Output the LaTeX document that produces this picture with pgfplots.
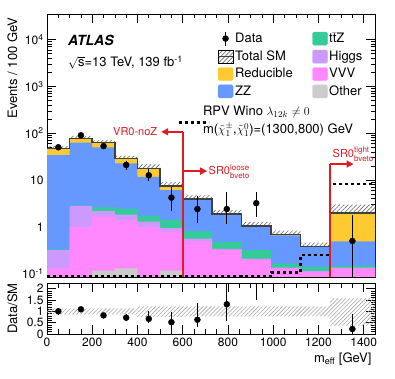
\documentclass[border=0pt]{standalone}
\usepackage{pgfplots}
\pgfplotsset{compat=1.18}
\usepackage{pgfplotstable}
\usepgfplotslibrary{fillbetween}
\usetikzlibrary{patterns.meta,arrows.meta}
\usepackage{fontspec}
\setmainfont{TeX Gyre Heros}

\definecolor{cRed}{RGB}{254,202,50}
\definecolor{cZZ}{RGB}{102,153,255}
\definecolor{cttZ}{RGB}{51,204,153}
\definecolor{cHig}{RGB}{204,153,255}
\definecolor{cVVV}{RGB}{255,136,255}
\definecolor{cOth}{RGB}{204,204,204}
\definecolor{cArrow}{RGB}{220,30,35}

% cumulative stack tops per bin (left edge), last row closes the last bin
\pgfplotstableread{
x     oth    vvv   hig    ttz    zz    tot   lo    hi    sig
0     0.02   0.13  0.32   0.33   34    47    40.9  53.1  0.0875
100   0.03   1.0   2.8    2.85   63    77    67.0  87.0  0.0875
200   0.116  1.66  2.2    2.6    50    63    54.8  71.2  0.0875
300   0.13   1.41  1.83   2.45   22.6  29    25.2  32.8  0.0875
400   0.02   1.0   1.3    1.74   11.7  17.7  13.5  21.6  0.0875
500   0.116  0.79  0.94   1.41   6.1   7.4   5.6   9.0   0.0875
600   0.02   0.5   0.56   0.8    3.8   3.9   3.04  4.76  0.0875
730   0.02   0.32  0.34   0.48   1.84  1.86  1.45  2.27  0.0875
860   0.02   0.2   0.21   0.32   1.03  1.05  0.82  1.28  0.0875
990   0.02   0.13  0.135  0.165  0.66  0.68  0.53  0.83  0.107
1120  0.02   0.11  0.115  0.14   0.37  0.38  0.30  0.46  0.25
1250  0.02   0.13  0.135  0.148  0.49  1.95  0.72  3.0   8.2
1450  0.02   0.13  0.135  0.148  0.49  1.95  0.72  3.0   8.2
}\stack

\pgfplotstableread{
x     y     ep    em
50    50    7     7
150   90    9.5   9.5
250   53    7.3   7.3
350   21    5     5
450   12.6  4.3   3.0
550   4.2   3.0   2.0
665   2.4   2.2   1.2
795   2.4   3.2   1.26
925   3.2   2.4   1.54
1350  0.5   1.3   0.45
}\data

\pgfplotstableread{
x     r     ep    em
50    1.0   0.14  0.14
150   1.09  0.12  0.12
250   0.82  0.11  0.11
350   0.72  0.16  0.16
450   0.67  0.33  0.19
550   0.52  0.47  0.35
665   0.63  0.72  0.33
795   1.31  1.2   0.74
925   3.0   2.0   1.48
1350  0.22  0.68  0.22
}\ratio

\pgfplotstableread{
x     lo    hi
0     0.87  1.13
400   0.76  1.22
600   0.78  1.22
1250  0.37  1.57
1450  0.37  1.57
}\band

\pgfplotsset{
  atlas/.style={
    scale only axis, width=328bp,
    xmin=0, xmax=1450,
    xtick={0,200,...,1400}, minor x tick num=3,
    tick align=inside,
    major tick length=9bp, minor tick length=4.5bp,
    axis line style={line width=0.8bp},
    every tick/.style={black, line width=0.6bp},
    tick label style={font=\fontsize{12bp}{14bp}\selectfont},
    label style={font=\fontsize{13bp}{15bp}\selectfont},
    /pgf/number format/assume math mode=true,
    /pgf/number format/1000 sep={},
  },
  box/.style={legend image code/.code={\fill[#1, rounded corners=1.5bp] (0bp,-6.5bp) rectangle (15bp,6.5bp);}},
}

\begin{document}
\begin{tikzpicture}

% ---------------- ratio panel
\begin{axis}[atlas, at={(0,0)}, anchor=south west, height=51bp,
  ymin=0, ymax=2.25, ytick={0,0.5,1,1.5,2}, minor y tick num=4,
  yticklabels={0,0.5,1,1.5,2},
  xlabel={m\textsubscript{eff} [GeV]},
  ylabel={Data/SM},
  xlabel style={at={(rel axis cs:1,0)}, anchor=north east, yshift=-15bp},
  ylabel style={at={([xshift=-26bp]rel axis cs:0,0.5)}, anchor=south},
]
\addplot[name path=bup, draw=none, const plot mark left, forget plot] table[x=x, y=hi] {\band};
\addplot[name path=bdn, draw=none, const plot mark left, forget plot] table[x=x, y=lo] {\band};
\addplot[pattern={Lines[angle=45, distance=2.8bp, line width=0.6bp]}, pattern color=black!35, draw=none, forget plot]
  fill between[of=bup and bdn];
\addplot[only marks, mark=*, mark size=3bp, black,
  error bars/.cd, y dir=both, y explicit, error mark=none,
  error bar style={line width=1.3bp}]
  table[x=x, y=r, y error plus=ep, y error minus=em] {\ratio};
\end{axis}

% ---------------- main panel
\begin{axis}[atlas, at={(0,57bp)}, anchor=south west, height=263bp,
  ymode=log, log origin y=infty,
  ymin=0.085, ymax=3.5e4,
  ytick={0.1,1,10,100,1000,10000},
  yticklabels={10\textsuperscript{-1},1,10,10\textsuperscript{2},10\textsuperscript{3},10\textsuperscript{4}},
  xticklabel=\empty,
  ylabel={Events / 100 GeV},
  ylabel style={at={([xshift=-26bp]rel axis cs:0,1)}, anchor=south east},
  legend columns=2, legend cell align=left,
  legend style={at={(0.51,0.944)}, anchor=north west, draw=none, fill=none,
    font=\fontsize{13bp}{15bp}\selectfont, row sep=3.3bp,
    /tikz/every even column/.append style={column sep=18bp},
    nodes={inner sep=1.5bp}},
]
\addplot[ybar interval, fill=cRed, draw=none, forget plot] table[x=x, y=tot] {\stack};
\addplot[ybar interval, fill=cZZ,  draw=none, forget plot] table[x=x, y=zz]  {\stack};
\addplot[ybar interval, fill=cttZ, draw=none, forget plot] table[x=x, y=ttz] {\stack};
\addplot[ybar interval, fill=cHig, draw=none, forget plot] table[x=x, y=hig] {\stack};
\addplot[ybar interval, fill=cVVV, draw=none, forget plot] table[x=x, y=vvv] {\stack};
\addplot[ybar interval, fill=cOth, draw=none, forget plot] table[x=x, y=oth] {\stack};

\addplot[name path=up, draw=none, const plot mark left, forget plot] table[x=x, y=hi] {\stack};
\addplot[name path=dn, draw=none, const plot mark left, forget plot] table[x=x, y=lo] {\stack};
\addplot[pattern={Lines[angle=45, distance=3bp, line width=0.6bp]}, pattern color=black!60, draw=none, forget plot]
  fill between[of=up and dn];

\addplot[black!75, line width=1.6bp, const plot mark left, forget plot] table[x=x, y=tot] {\stack};
\addplot[black, line width=2.4bp, dash pattern=on 3bp off 3bp, const plot mark left, forget plot]
  table[x=x, y=sig] {\stack};

\addplot[only marks, mark=*, mark size=3bp, black, forget plot,
  error bars/.cd, y dir=both, y explicit, error mark=none,
  error bar style={line width=1.3bp}]
  table[x=x, y=y, y error plus=ep, y error minus=em] {\data};

% region arrows
\draw[cArrow, line width=1.6bp] (axis cs:600,0.085) -- (axis cs:600,107);
\draw[cArrow, line width=1.6bp, -{Triangle[length=7bp,width=7bp]}] (axis cs:600,107) -- (axis cs:505,107);
\draw[cArrow, line width=1.6bp, -{Triangle[length=7bp,width=7bp]}] (axis cs:600,15.5) -- (axis cs:708,15.5);
\draw[cArrow, line width=1.6bp] (axis cs:1250,0.085) -- (axis cs:1250,21.9);
\draw[cArrow, line width=1.6bp, -{Triangle[length=7bp,width=7bp]}] (axis cs:1250,21.9) -- (axis cs:1355,21.9);
\node[cArrow, anchor=base east, inner sep=0pt, font=\fontsize{11bp}{13bp}\selectfont] at (axis cs:488,88) {VR0-noZ};
\node[cArrow, anchor=base west, inner sep=0pt, font=\fontsize{11bp}{13bp}\selectfont] at (axis cs:714,13.1)
  {SR0$^{\mbox{\fontsize{8bp}{9bp}\selectfont loose}}_{\mbox{\fontsize{8bp}{9bp}\selectfont bveto}}$};
\node[cArrow, anchor=base west, inner sep=0pt, font=\fontsize{11bp}{13bp}\selectfont] at (axis cs:1262,30)
  {SR0$^{\mbox{\fontsize{8bp}{9bp}\selectfont tight}}_{\mbox{\fontsize{8bp}{9bp}\selectfont bveto}}$};

\node[anchor=west, inner sep=0pt, font=\fontsize{14bp}{16bp}\selectfont\bfseries\itshape] at (rel axis cs:0.064,0.901) {ATLAS};
\node[anchor=west, inner sep=0pt, font=\fontsize{13bp}{15bp}\selectfont] at (rel axis cs:0.064,0.817)
  {$\sqrt{\mbox{s}}$=13 TeV, 139 fb\textsuperscript{-1}};

% legend
\addlegendimage{legend image code/.code={
  \draw[line width=1.3bp] (7.5bp,-7bp) -- (7.5bp,7bp);
  \fill (7.5bp,0bp) circle (3bp);}}
\addlegendentry{Data}
\addlegendimage{box=cttZ}
\addlegendentry{t$\bar{\mbox{t}}$Z}
\addlegendimage{legend image code/.code={
  \fill[pattern={Lines[angle=45, distance=3bp, line width=0.6bp]}, pattern color=black!60] (0bp,-6.5bp) rectangle (15bp,6.5bp);
  \draw[black!75, line width=1.2bp] (0bp,0bp) -- (15bp,0bp);}}
\addlegendentry{Total SM}
\addlegendimage{box=cHig}
\addlegendentry{Higgs}
\addlegendimage{box=cRed}
\addlegendentry{Reducible}
\addlegendimage{box=cVVV}
\addlegendentry{VVV}
\addlegendimage{box=cZZ}
\addlegendentry{ZZ}
\addlegendimage{box=cOth}
\addlegendentry{Other}
\end{axis}

% ---------------- signal legend
\begin{axis}[at={(0,57bp)}, anchor=south west, scale only axis, width=328bp, height=263bp,
  hide axis, xmin=0, xmax=1, ymin=0, ymax=1,
  legend cell align=left,
  legend style={at={(0.37,0.668)}, anchor=north west, draw=none, fill=none,
    font=\fontsize{13bp}{15bp}\selectfont, nodes={inner sep=1.5bp}},
]
\addlegendimage{legend image code/.code={
  \path[draw=none, fill=none] (0bp,0bp) rectangle (30bp,0.1bp);
  \draw[overlay, black, line width=2.4bp, dash pattern=on 3bp off 3bp] (7bp,-7bp) -- (37bp,-7bp);}}
\addlegendentry{\begin{tabular}{@{}l@{}}RPV Wino $\lambda_{12k}\neq 0$\\[3bp]
  m($\tilde{\chi}^{\pm}_{1}$,$\tilde{\chi}^{0}_{1}$)=(1300,800) GeV\end{tabular}}
\end{axis}

\pgfresetboundingbox
\useasboundingbox (-47bp,-45bp) rectangle (348bp,334bp);
\end{tikzpicture}
\end{document}
